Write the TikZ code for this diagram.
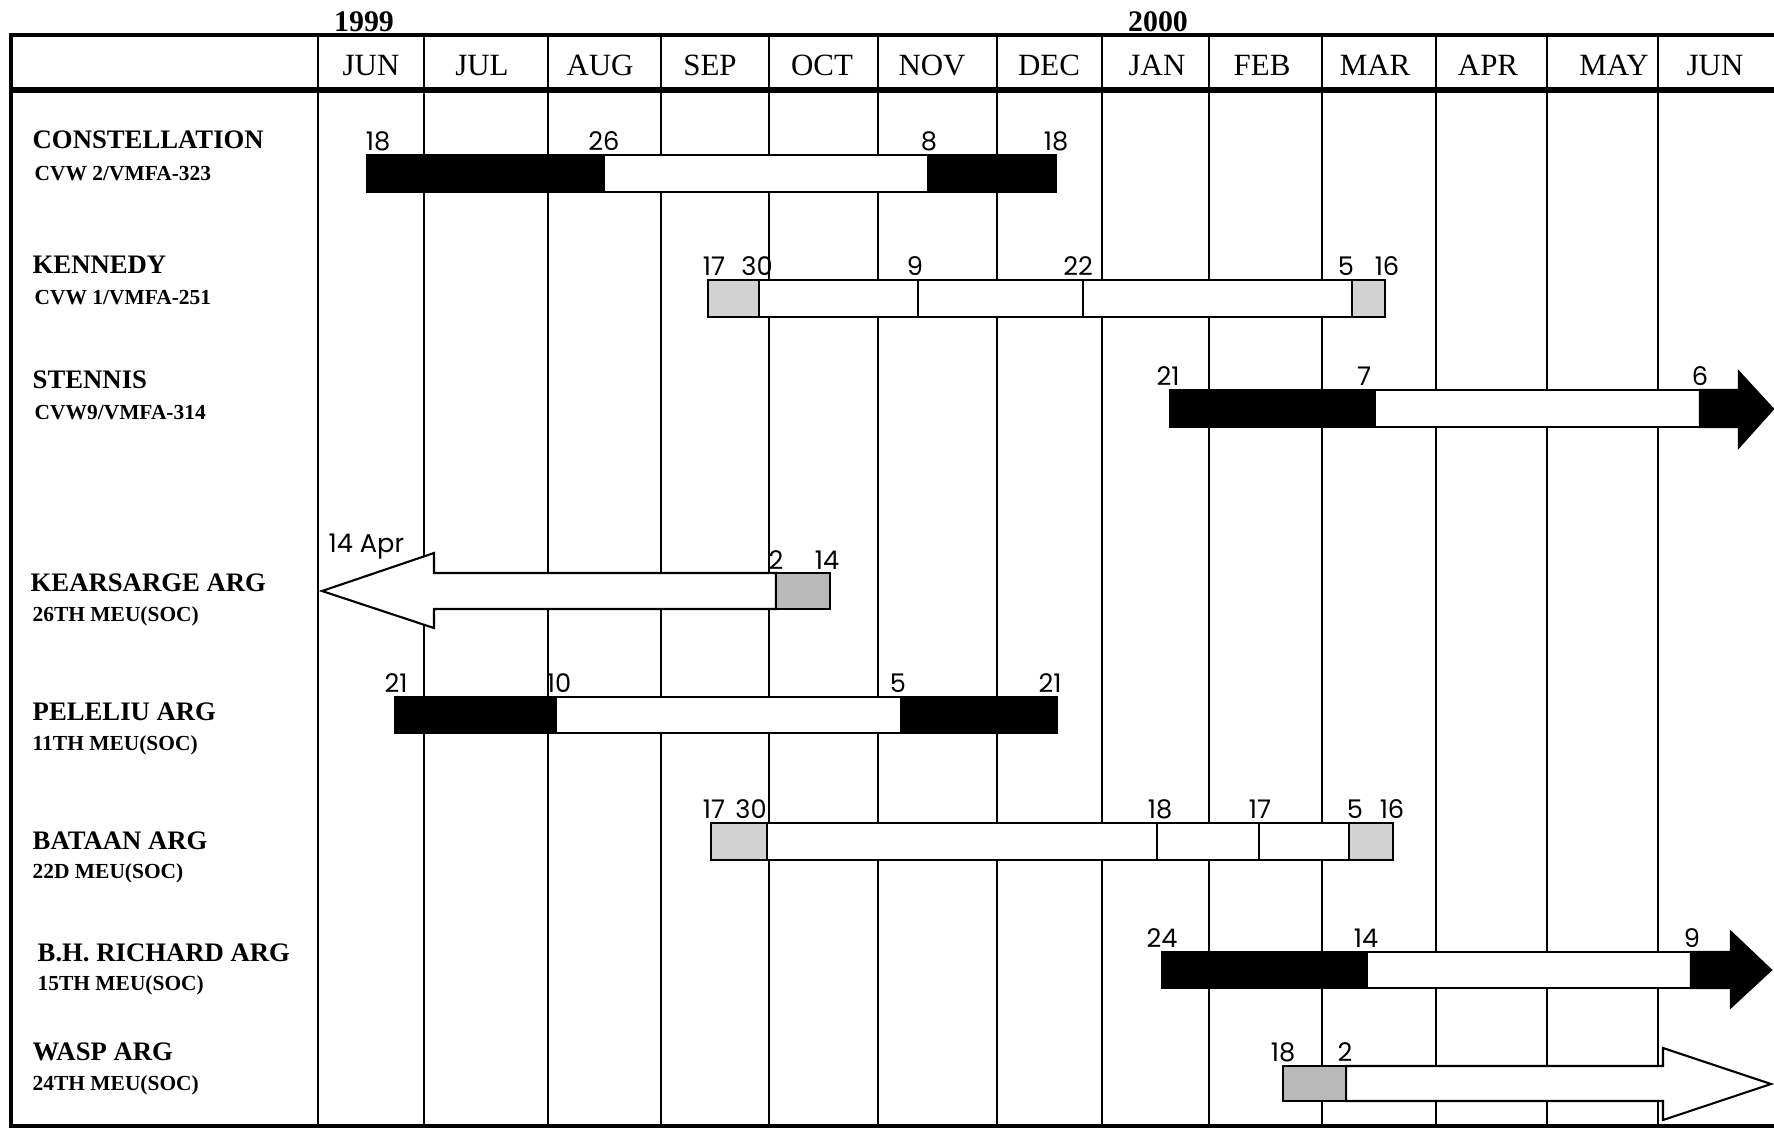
\documentclass[tikz,border=0pt]{standalone}
\usepackage{fontspec}
\setmainfont{Liberation Serif}
\newfontfamily\daysans{Poppins}

\begin{document}
\begin{tikzpicture}[
        x=0.1mm, y=-0.1mm,
        monthlbl/.style={anchor=base, inner sep=0pt, font=\fontsize{8.8}{10}\selectfont},
        yearlbl/.style={anchor=base, inner sep=0pt, font=\bfseries\fontsize{8.5}{10}\selectfont},
        shipname/.style={anchor=base west, inner sep=0pt, font=\bfseries\fontsize{7.6}{9}\selectfont},
        unitname/.style={anchor=base west, inner sep=0pt, font=\bfseries\fontsize{6.1}{7}\selectfont},
        daylbl/.style={anchor=base, inner sep=0pt, font=\daysans\fontsize{7.3}{8}\selectfont},
        gridline/.style={line width=0.7pt},
        blackbar/.style={draw=black, fill=black, line width=0.6pt},
        whitebar/.style={draw=black, fill=white, line width=0.6pt},
        shadebar/.style={draw=black, fill=gray!35, line width=0.6pt},
        darkbar/.style={shadebar, fill=gray!55}
    ]
        \useasboundingbox (0,0) rectangle (1774,1130);
        \fill[white] (0,0) rectangle (1774,1130);

        % header
        \node[yearlbl] (y1999) at (364,31) {1999};
        \node[yearlbl] (y2000) at (1158,31) {2000};
        \foreach \xc/\mon [count=\i] in {371/JUN, 482/JUL, 600/AUG, 710/SEP, 822/OCT, 932/NOV, 1049/DEC, 1157/JAN, 1262/FEB, 1375/MAR, 1488/APR, 1614/MAY, 1715/JUN}
            \node[monthlbl] (mon\i) at (\xc,75) {\mon};

        % grid and frame
        \foreach \xg in {318, 424, 548, 661, 769, 878, 997, 1102, 1209, 1322, 1436, 1547, 1658}
            \draw[gridline] (\xg,35) -- (\xg,1126);
        \draw[line width=1.1pt] (11,35) -- (1774,35);
        \draw[line width=1.8pt] (11,90) -- (1774,90);
        \draw[line width=1.4pt] (11,1126) -- (1774,1126);
        \draw[line width=1.3pt] (11,33) -- (11,1128);

        % CONSTELLATION
        \node[shipname] (cons) at (32,148) {CONSTELLATION};
        \node[unitname] (cons-u) at (34,180) {CVW 2/VMFA-323};
        \draw[blackbar] (367,155) rectangle (604,192);
        \draw[whitebar] (604,155) rectangle (928,192);
        \draw[blackbar] (928,155) rectangle (1056,192);
        \foreach \x/\d [count=\i] in {378/18, 604/26, 929/8, 1056/18}
            \node[daylbl] (cons-d\i) at (\x,150) {\d};

        % KENNEDY
        \node[shipname] (kenn) at (32,273) {KENNEDY};
        \node[unitname] (kenn-u) at (34,304) {CVW 1/VMFA-251};
        \draw[whitebar] (759,280) rectangle (1352,317);
        \draw[whitebar] (918,280) -- (918,317) (1083,280) -- (1083,317);
        \draw[shadebar] (708,280) rectangle (759,317);
        \draw[shadebar] (1352,280) rectangle (1385,317);
        \foreach \x/\d [count=\i] in {714/17, 757/30, 915/9, 1078/22, 1346/5, 1387/16}
            \node[daylbl] (kenn-d\i) at (\x,275) {\d};

        % STENNIS
        \node[shipname] (sten) at (32,388) {STENNIS};
        \node[unitname] (sten-u) at (34,419) {CVW9/VMFA-314};
        \draw[blackbar] (1170,390) rectangle (1375,427);
        \draw[whitebar] (1375,390) rectangle (1700,427);
        \draw[blackbar] (1700,390) -- (1739,390) -- (1739,372) -- (1773,409) -- (1739,447) -- (1739,427) -- (1700,427) -- cycle;
        \foreach \x/\d [count=\i] in {1168/21, 1364/7, 1700/6}
            \node[daylbl] (sten-d\i) at (\x,385) {\d};

        % KEARSARGE
        \node[shipname] (kear) at (30,591) {KEARSARGE ARG};
        \node[unitname] (kear-u) at (32,621) {26TH MEU(SOC)};
        \draw[whitebar] (776,573) -- (434,573) -- (434,553) -- (322,591) -- (434,628) -- (434,609) -- (776,609) -- cycle;
        \draw[darkbar] (776,573) rectangle (830,609);
        \node[daylbl, anchor=base west] (kear-d0) at (328,552) {14 Apr};
        \foreach \x/\d [count=\i] in {776/2, 827/14}
            \node[daylbl] (kear-d\i) at (\x,569) {\d};

        % PELELIU
        \node[shipname] (pele) at (32,720) {PELELIU ARG};
        \node[unitname] (pele-u) at (32,750) {11TH MEU(SOC)};
        \draw[blackbar] (395,697) rectangle (556,733);
        \draw[whitebar] (556,697) rectangle (901,733);
        \draw[blackbar] (901,697) rectangle (1057,733);
        \foreach \x/\d [count=\i] in {396/21, 559/10, 898/5, 1050/21}
            \node[daylbl] (pele-d\i) at (\x,692) {\d};

        % BATAAN
        \node[shipname] (bata) at (32,849) {BATAAN ARG};
        \node[unitname] (bata-u) at (32,878) {22D MEU(SOC)};
        \draw[whitebar] (767,823) rectangle (1349,860);
        \draw[whitebar] (1157,823) -- (1157,860) (1259,823) -- (1259,860);
        \draw[shadebar] (711,823) rectangle (767,860);
        \draw[shadebar] (1349,823) rectangle (1393,860);
        \foreach \x/\d [count=\i] in {714/17, 751/30, 1160/18, 1260/17, 1355/5, 1392/16}
            \node[daylbl] (bata-d\i) at (\x,818) {\d};

        % B.H. RICHARD
        \node[shipname] (rich) at (37,961) {B.H. RICHARD ARG};
        \node[unitname] (rich-u) at (37,990) {15TH MEU(SOC)};
        \draw[blackbar] (1162,952) rectangle (1367,988);
        \draw[whitebar] (1367,952) rectangle (1691,988);
        \draw[blackbar] (1691,952) -- (1731,952) -- (1731,932) -- (1771,970) -- (1731,1007) -- (1731,988) -- (1691,988) -- cycle;
        \foreach \x/\d [count=\i] in {1162/24, 1366/14, 1692/9}
            \node[daylbl] (rich-d\i) at (\x,947) {\d};

        % WASP
        \node[shipname] (wasp) at (32,1060) {WASP ARG};
        \node[unitname] (wasp-u) at (32,1090) {24TH MEU(SOC)};
        \draw[whitebar] (1346,1066) -- (1663,1066) -- (1663,1048) -- (1771,1084) -- (1663,1120) -- (1663,1101) -- (1346,1101) -- cycle;
        \draw[darkbar] (1283,1066) rectangle (1346,1101);
        \foreach \x/\d [count=\i] in {1283/18, 1345/2}
            \node[daylbl] (wasp-d\i) at (\x,1061) {\d};
    \end{tikzpicture}
\end{document}
